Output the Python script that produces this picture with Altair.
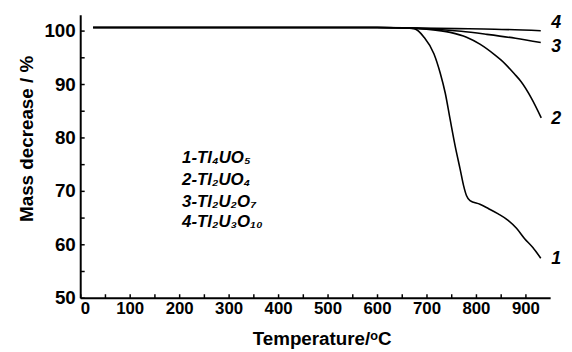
import altair as alt
import pandas as pd

# ---- data ----
t1 = [26, 200, 400, 600, 655, 675, 695, 715, 728, 738, 748, 758, 768, 775, 781, 788, 808, 825, 845, 865, 882, 898, 915, 931]
m1 = [100.6, 100.6, 100.6, 100.6, 100.55, 100.4, 98.8, 95.7, 92.0, 88.3, 83.3, 78.4, 74.1, 71.0, 69.1, 68.2, 67.5, 66.7, 65.7, 64.5, 63.0, 61.1, 59.4, 57.4]
t2 = [26, 400, 600, 670, 700, 748, 781, 808, 838, 851, 878, 891, 912, 932]
m2 = [100.6, 100.6, 100.6, 100.5, 100.3, 99.7, 98.8, 97.5, 95.5, 94.5, 91.9, 90.5, 87.4, 83.7]
t3 = [26, 400, 600, 680, 720, 770, 820, 880, 931]
m3 = [100.6, 100.6, 100.6, 100.5, 100.3, 99.9, 99.35, 98.6, 97.8]
t4 = [26, 400, 600, 680, 760, 838, 931]
m4 = [100.6, 100.6, 100.6, 100.5, 100.4, 100.3, 100.0]

curve_ids = ["1", "2", "3", "4"]
curve_label_t = [952, 952, 952, 952]
curve_label_m = [57.2, 83.5, 97.0, 101.5]

legend_text = ["1-Tl₄UO₅", "2-Tl₂UO₄", "3-Tl₂U₂O₇", "4-Tl₂U₃O₁₀"]
legend_t = [206, 206, 206, 206]
legend_m = [76.1, 72.0, 68.0, 64.1]

x_major = [0, 100, 200, 300, 400, 500, 600, 700, 800, 900]
x_minor = [50, 150, 250, 350, 450, 550, 650, 750, 850]
y_major = [50, 60, 70, 80, 90, 100]
y_minor = [55, 65, 75, 85, 95]

W, H = 475, 286
FONT = "Liberation Sans"

rows = []
for cid, ts, ms in zip(curve_ids, [t1, t2, t3, t4], [m1, m2, m3, m4]):
    for t, m in zip(ts, ms):
        rows.append({"curve": cid, "T": t, "M": m})
df = pd.DataFrame(rows)

xs = alt.Scale(domain=[0, 950], nice=False, zero=False)
ys = alt.Scale(domain=[50, 103], nice=False, zero=False)

x_axis = alt.Axis(
    values=x_major, ticks=False, grid=False, domainWidth=2, domainColor="black",
    labelFont=FONT, labelFontSize=17, labelFontWeight="bold", labelColor="black",
    labelPadding=3, title="Temperature/ᵒC", titleFont=FONT, titleFontSize=19,
    titleFontWeight="bold", titleColor="black", titleX=244, titleY=47,
    titleBaseline="alphabetic", titleAnchor="middle", titleAlign="center",
)
y_axis = alt.Axis(
    values=y_major, ticks=False, grid=False, domainWidth=2, domainColor="black",
    labelFont=FONT, labelFontSize=19, labelFontWeight="bold", labelColor="black",
    labelPadding=5, title="Mass decrease / %", titleFont=FONT, titleFontSize=19,
    titleFontWeight="bold", titleColor="black", titleX=-48, titleY=125,
    titleBaseline="alphabetic", titleAlign="center", titleAngle=270,
)

# inward ticks: extra axes on the opposite side, moved onto the plot edge
x_tick_axis = alt.Axis(
    orient="top", offset=-H, values=x_major + x_minor, labels=False, domain=False,
    ticks=True, tickSize=4, tickWidth=1.5, tickColor="black", grid=False, title=None,
)
y_tick_axis = alt.Axis(
    orient="right", offset=-W, values=y_major + y_minor, labels=False, domain=False,
    ticks=True, tickSize=4, tickWidth=1.5, tickColor="black", grid=False, title=None,
)

lines = alt.Chart(df).mark_line(color="black", strokeWidth=1.6, interpolate="monotone").encode(
    x=alt.X("T:Q", scale=xs, axis=x_axis),
    y=alt.Y("M:Q", scale=ys, axis=y_axis),
    detail="curve:N",
)

xt = pd.DataFrame({"t": x_major + x_minor})
yt = pd.DataFrame({"v": y_major + y_minor})
xticks = alt.Chart(xt).mark_point(opacity=0).encode(
    x=alt.X("t:Q", scale=xs, axis=x_tick_axis),
)
yticks = alt.Chart(yt).mark_point(opacity=0).encode(
    y=alt.Y("v:Q", scale=ys, axis=y_tick_axis),
)

cl = pd.DataFrame({"id": curve_ids, "t": curve_label_t, "m": curve_label_m})
curve_labels = alt.Chart(cl).mark_text(
    font=FONT, fontSize=18, fontWeight="bold", fontStyle="italic",
    align="left", baseline="middle", color="black",
).encode(x=alt.X("t:Q", scale=xs, axis=None), y=alt.Y("m:Q", scale=ys, axis=None), text="id:N")

lg = pd.DataFrame({"txt": legend_text, "t": legend_t, "m": legend_m})
legend = alt.Chart(lg).mark_text(
    font=FONT, fontSize=17, fontWeight="bold", fontStyle="italic",
    align="left", baseline="middle", color="black",
).encode(x=alt.X("t:Q", scale=xs, axis=None), y=alt.Y("m:Q", scale=ys, axis=None), text="txt:N")

chart = alt.layer(lines, xticks, yticks, curve_labels, legend).resolve_axis(
    x="independent", y="independent"
).properties(
    width=W, height=H,
    autosize=alt.AutoSizeParams(type="none"),
    padding={"left": 73, "top": 5, "right": 14, "bottom": 50},
).configure_view(stroke=None)

chart.save("out.html", embed_options={"renderer": "svg", "actions": False})
